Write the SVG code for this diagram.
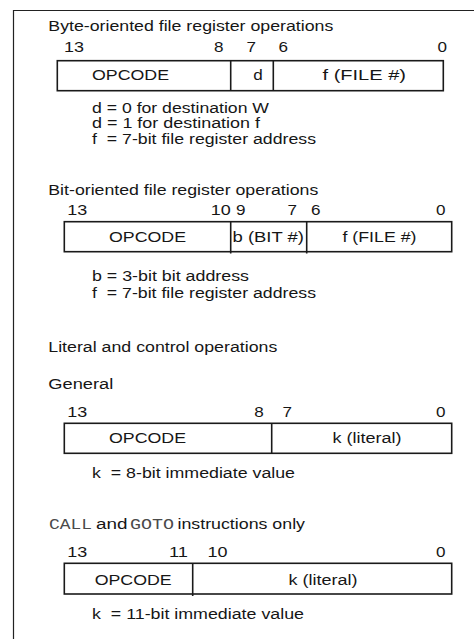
<svg xmlns="http://www.w3.org/2000/svg" width="474" height="639" viewBox="0 0 474 639">
<style>
  text { font-family: "Liberation Sans", Arial, Helvetica, sans-serif; font-size: 15.5px; fill: #161616; white-space: pre; }
  .mono { font-family: "Liberation Mono", "Courier New", monospace; fill: #4a4a4a; }
  .frame { fill: none; stroke: #222; stroke-width: 1.2; }
  .box { fill: #fff; stroke: #1a1a1a; stroke-width: 1.6; }
  .div { stroke: #1a1a1a; stroke-width: 1.6; }
</style>
<rect width="474" height="639" fill="#fff"/>
<path class="frame" d="M13.5,639 V10.5 H474"/>

<g id="byte-oriented">
  <text x="48.3" y="31" textLength="285" lengthAdjust="spacingAndGlyphs">Byte-oriented file register operations</text>
  <text x="64" y="51.5" textLength="20" lengthAdjust="spacingAndGlyphs">13</text>
  <text x="214" y="51.5" textLength="9.5" lengthAdjust="spacingAndGlyphs">8</text>
  <text x="246.5" y="51.5" textLength="9.5" lengthAdjust="spacingAndGlyphs">7</text>
  <text x="278.5" y="51.5" textLength="9.5" lengthAdjust="spacingAndGlyphs">6</text>
  <text x="437.5" y="51.5" textLength="9.5" lengthAdjust="spacingAndGlyphs">0</text>
  <rect class="box" x="57.3" y="60.7" width="386" height="30"/>
  <line class="div" x1="230.7" y1="60.7" x2="230.7" y2="90.7"/>
  <line class="div" x1="273.3" y1="60.7" x2="273.3" y2="90.7"/>
  <text x="92" y="80" textLength="77" lengthAdjust="spacingAndGlyphs">OPCODE</text>
  <text x="253.3" y="80" textLength="9.5" lengthAdjust="spacingAndGlyphs">d</text>
  <text x="322.5" y="80" textLength="83.5" lengthAdjust="spacingAndGlyphs">f (FILE #)</text>
  <text x="92" y="112.5" textLength="177" lengthAdjust="spacingAndGlyphs">d = 0 for destination W</text>
  <text x="92" y="128.3" textLength="168" lengthAdjust="spacingAndGlyphs">d = 1 for destination f</text>
  <text x="92" y="144" textLength="224" lengthAdjust="spacingAndGlyphs">f  = 7-bit file register address</text>
</g>

<g id="bit-oriented">
  <text x="48.3" y="195" textLength="270" lengthAdjust="spacingAndGlyphs">Bit-oriented file register operations</text>
  <text x="67.3" y="215" textLength="20" lengthAdjust="spacingAndGlyphs">13</text>
  <text x="210.7" y="215" textLength="20" lengthAdjust="spacingAndGlyphs">10</text>
  <text x="236" y="215" textLength="9.5" lengthAdjust="spacingAndGlyphs">9</text>
  <text x="287.5" y="215" textLength="9.5" lengthAdjust="spacingAndGlyphs">7</text>
  <text x="311" y="215" textLength="9.5" lengthAdjust="spacingAndGlyphs">6</text>
  <text x="436" y="215" textLength="9.5" lengthAdjust="spacingAndGlyphs">0</text>
  <rect class="box" x="64.3" y="221.7" width="387.4" height="30"/>
  <line class="div" x1="230.7" y1="221.7" x2="230.7" y2="253.5"/>
  <line class="div" x1="306.7" y1="221.7" x2="306.7" y2="253.5"/>
  <text x="109" y="242.3" textLength="77" lengthAdjust="spacingAndGlyphs">OPCODE</text>
  <text x="232.5" y="242.3" textLength="71.5" lengthAdjust="spacingAndGlyphs">b (BIT #)</text>
  <text x="342.5" y="242.3" textLength="74" lengthAdjust="spacingAndGlyphs">f (FILE #)</text>
  <text x="92" y="280.7" textLength="157" lengthAdjust="spacingAndGlyphs">b = 3-bit bit address</text>
  <text x="92" y="297.7" textLength="224" lengthAdjust="spacingAndGlyphs">f  = 7-bit file register address</text>
</g>

<g id="literal-general">
  <text x="48.3" y="352.3" textLength="229" lengthAdjust="spacingAndGlyphs">Literal and control operations</text>
  <text x="48.3" y="389.3" textLength="65" lengthAdjust="spacingAndGlyphs">General</text>
  <text x="67.3" y="417.3" textLength="20" lengthAdjust="spacingAndGlyphs">13</text>
  <text x="254.3" y="417.3" textLength="9.5" lengthAdjust="spacingAndGlyphs">8</text>
  <text x="282.5" y="417.3" textLength="9.5" lengthAdjust="spacingAndGlyphs">7</text>
  <text x="436" y="417.3" textLength="9.5" lengthAdjust="spacingAndGlyphs">0</text>
  <rect class="box" x="64.3" y="423.3" width="387.4" height="30"/>
  <line class="div" x1="271.7" y1="423.3" x2="271.7" y2="453.3"/>
  <text x="109" y="442.7" textLength="77" lengthAdjust="spacingAndGlyphs">OPCODE</text>
  <text x="332.5" y="442.7" textLength="69" lengthAdjust="spacingAndGlyphs">k (literal)</text>
  <text x="92" y="478.3" textLength="203" lengthAdjust="spacingAndGlyphs">k  = 8-bit immediate value</text>
</g>

<g id="call-goto">
  <text y="529"><tspan class="mono" x="49" textLength="43" lengthAdjust="spacingAndGlyphs">CALL</tspan><tspan x="96" textLength="31.5" lengthAdjust="spacingAndGlyphs">and</tspan><tspan class="mono" x="130" textLength="44" lengthAdjust="spacingAndGlyphs">GOTO</tspan><tspan x="177.5" textLength="127.5" lengthAdjust="spacingAndGlyphs">instructions only</tspan></text>
  <text x="67.3" y="556.7" textLength="20" lengthAdjust="spacingAndGlyphs">13</text>
  <text x="169" y="556.7" textLength="19" lengthAdjust="spacingAndGlyphs">11</text>
  <text x="207.5" y="556.7" textLength="20" lengthAdjust="spacingAndGlyphs">10</text>
  <text x="436" y="556.7" textLength="9.5" lengthAdjust="spacingAndGlyphs">0</text>
  <rect class="box" x="64.3" y="563.3" width="387.4" height="30.7"/>
  <line class="div" x1="192.7" y1="563.3" x2="192.7" y2="596"/>
  <text x="94.7" y="585" textLength="77" lengthAdjust="spacingAndGlyphs">OPCODE</text>
  <text x="288.5" y="585" textLength="69" lengthAdjust="spacingAndGlyphs">k (literal)</text>
  <text x="92" y="619.3" textLength="212" lengthAdjust="spacingAndGlyphs">k  = 11-bit immediate value</text>
</g>
</svg>
